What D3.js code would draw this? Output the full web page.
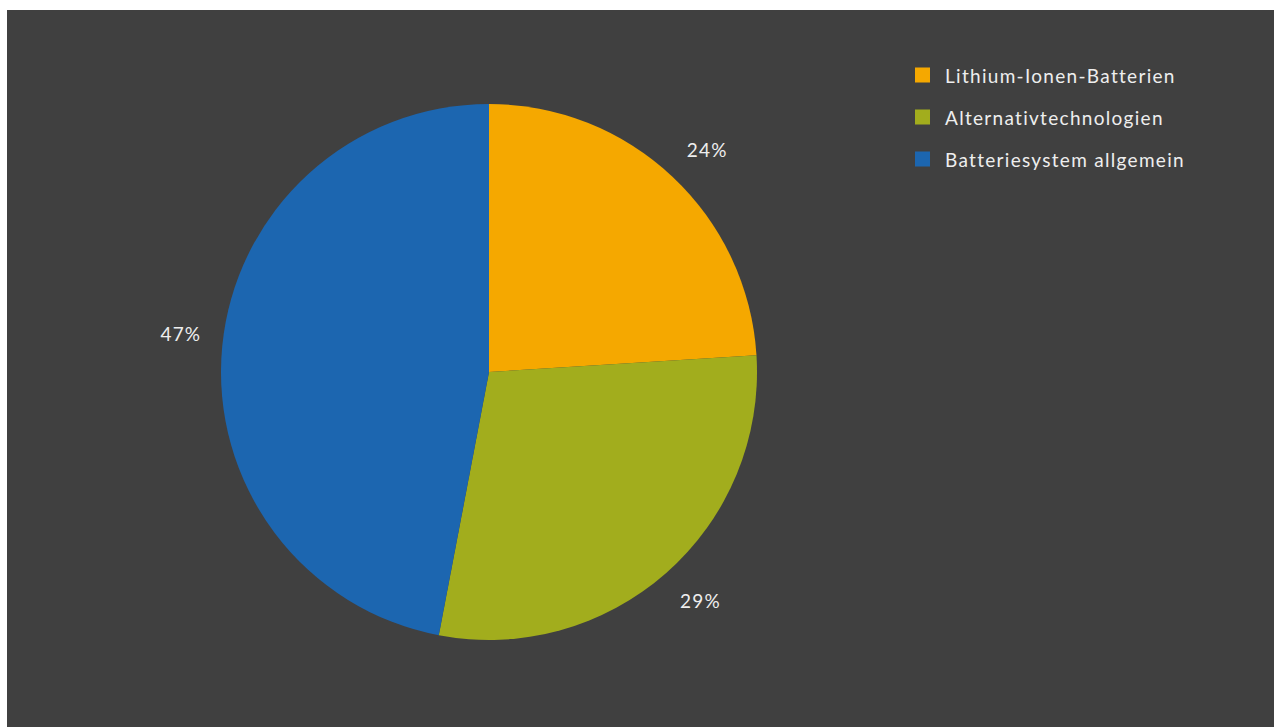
<!DOCTYPE html>
<html>
<head>
<meta charset="utf-8">
<script src="https://cdn.jsdelivr.net/npm/d3@7"></script>
<style>
  html, body { margin: 0; padding: 0; background: #ffffff; }
  svg { display: block; }
  text { font-family: Lato, "Open Sans", sans-serif; }
</style>
</head>
<body>
<svg id="chart" width="1274" height="727"></svg>
<script>
// Share of battery research topics (percent)
const categories = ["Lithium-Ionen-Batterien", "Alternativtechnologien", "Batteriesystem allgemein"];
const values = [24, 29, 47];
const colors = ["#F5A800", "#A2AD1D", "#1C66B0"];

const svg = d3.select("#chart");
const W = 1274, H = 727;

// dark panel
svg.append("rect")
  .attr("x", 7).attr("y", 10)
  .attr("width", W - 7).attr("height", H - 10)
  .attr("fill", "#404040");

const cx = 489, cy = 372, r = 268;

const pie = d3.pie().sort(null).value(d => d.value);
const arcs = pie(categories.map((c, i) => ({ name: c, value: values[i] })));

const arc = d3.arc().innerRadius(0).outerRadius(r);
const color = d3.scaleOrdinal().domain(categories).range(colors);

const g = svg.append("g").attr("transform", `translate(${cx},${cy})`);

g.selectAll("path.slice")
  .data(arcs)
  .join("path")
  .attr("class", "slice")
  .attr("d", arc)
  .attr("fill", d => color(d.data.name));

// outside-end percentage labels: the label box is pushed outward from
// the anchor point on the slice's mid-angle so it never touches the pie
const total = d3.sum(values);
const labelR = r + 21;
const labels = g.selectAll("text.pct")
  .data(arcs)
  .join("text")
  .attr("class", "pct")
  .attr("text-anchor", "middle")
  .attr("dominant-baseline", "central")
  .attr("fill", "#eeeeee")
  .attr("font-size", 19)
  .attr("letter-spacing", "1.2px")
  .text(d => Math.round(d.data.value / total * 100) + "%");

labels.each(function(d) {
  const bb = this.getBBox();
  const a = (d.startAngle + d.endAngle) / 2;
  const s = Math.sin(a), c = -Math.cos(a);
  const px = labelR * s, py = labelR * c;
  const x = px + Math.sign(s) * bb.width / 2;
  const y = py + Math.sign(c) * bb.height / 2;
  d3.select(this).attr("transform", `translate(${x},${y})`);
});

// legend
const legend = svg.append("g").attr("transform", "translate(915,75)");
const item = legend.selectAll("g.item")
  .data(categories)
  .join("g")
  .attr("class", "item")
  .attr("transform", (d, i) => `translate(0,${i * 42})`);

item.append("rect")
  .attr("x", 0).attr("y", -7.5)
  .attr("width", 15).attr("height", 15)
  .attr("fill", d => color(d));

item.append("text")
  .attr("x", 30).attr("y", 0)
  .attr("dominant-baseline", "central")
  .attr("fill", "#eeeeee")
  .attr("font-size", 19)
  .attr("letter-spacing", "1.3px")
  .text(d => d);
</script>
</body>
</html>
